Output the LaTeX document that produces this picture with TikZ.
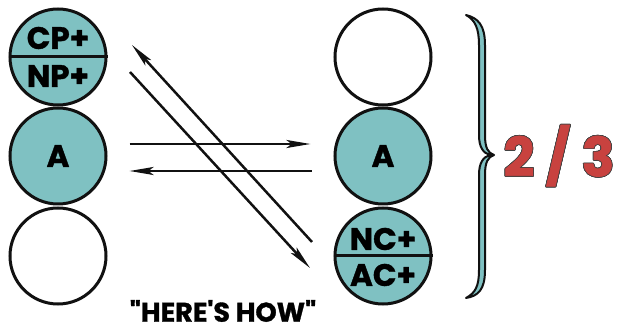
\documentclass[tikz,border=0pt]{standalone}
\usepackage{fontspec}
\usepackage[copies]{contour}
\newfontfamily\diagfont{Poppins}[BoldFeatures={FakeBold=1.2}]
\usetikzlibrary{arrows.meta,positioning,calc}
\definecolor{sea}{HTML}{7FC1C2}
\definecolor{brick}{HTML}{C8423F}
\definecolor{ink}{HTML}{111111}
\contourlength{0.7pt}
\tikzset{
  ball/.style={circle,draw=ink,line width=3pt,minimum size=96pt,inner sep=0pt,
    font=\diagfont\bfseries\fontsize{31}{31}\selectfont},
  full/.style={ball,fill=sea},
  tag/.style={font=\diagfont\bfseries\fontsize{31}{31}\selectfont,inner sep=0pt},
  arrow/.style={-{Stealth[length=24pt,width=8pt,inset=5pt]},line width=2.5pt,draw=ink},
  brace/.style={fill=sea,draw=ink,line width=2pt,line join=round}
}

\begin{document}
\begin{tikzpicture}[x=1pt,y=-1pt]
  \useasboundingbox (0,0) rectangle (625,331);
  % left column
  \node[full] (lT) at (58,57) {};
  \node[full] (lA) at (58,156) {A};
  \node[ball] (lB) at (58,256) {};
  \draw[draw=ink,line width=3pt] (lT.west) -- (lT.east);
  \node[tag] (cp) at ([yshift=19pt]lT.center) {CP+};
  \node[tag] (np) at ([yshift=-19pt]lT.center) {NP+};

  % right column
  \node[ball] (rT) at (383,57) {};
  \node[full] (rA) at (383,156) {A};
  \node[full] (rB) at (383,256) {};
  \draw[draw=ink,line width=3pt] (rB.west) -- (rB.east);
  \node[tag] (nc) at ([yshift=17pt]rB.center) {NC+};
  \node[tag] (ac) at ([yshift=-19pt]rB.center) {AC+};

  % crossing arrows
  \coordinate (upS) at (312,242);
  \coordinate (upE) at (132,45);
  \coordinate (dnS) at (130,72);
  \coordinate (dnE) at (310,268);
  \draw[arrow,shorten <=22pt,shorten >=23pt] ([yshift=12pt]lA.east) -- ([yshift=12pt]rA.west);
  \draw[arrow,shorten <=22pt,shorten >=22pt] ([yshift=-15pt]rA.west) -- ([yshift=-15pt]lA.east);
  \draw[arrow] (upS) -- (upE);
  \draw[arrow] (dnS) -- (dnE);

  % brace and ratio
  \draw[brace] (466,15) .. controls (478,18) and (485,25) .. (485,45) -- (485,135)
    .. controls (485,148) and (488,153) .. (494,155)
    .. controls (488,157) and (485,162) .. (485,175) -- (485,270)
    .. controls (485,290) and (478,296) .. (466,298)
    .. controls (475,293) and (479,287) .. (479,270) -- (479,175)
    .. controls (479,163) and (483,157) .. (490,155)
    .. controls (483,153) and (479,147) .. (479,135) -- (479,45)
    .. controls (479,28) and (475,20) .. (466,15) -- cycle;
  \node[font=\diagfont\bfseries\fontsize{54}{54}\selectfont,inner sep=0pt] (ratio) at (559,156)
    {\contour{ink!80}{\textcolor{brick}{2 / 3}}};

  \node[font=\diagfont\bfseries\fontsize{27}{27}\selectfont,inner sep=0pt] (how) at (223,311)
    {"HERE'S HOW"};
\end{tikzpicture}
\end{document}
